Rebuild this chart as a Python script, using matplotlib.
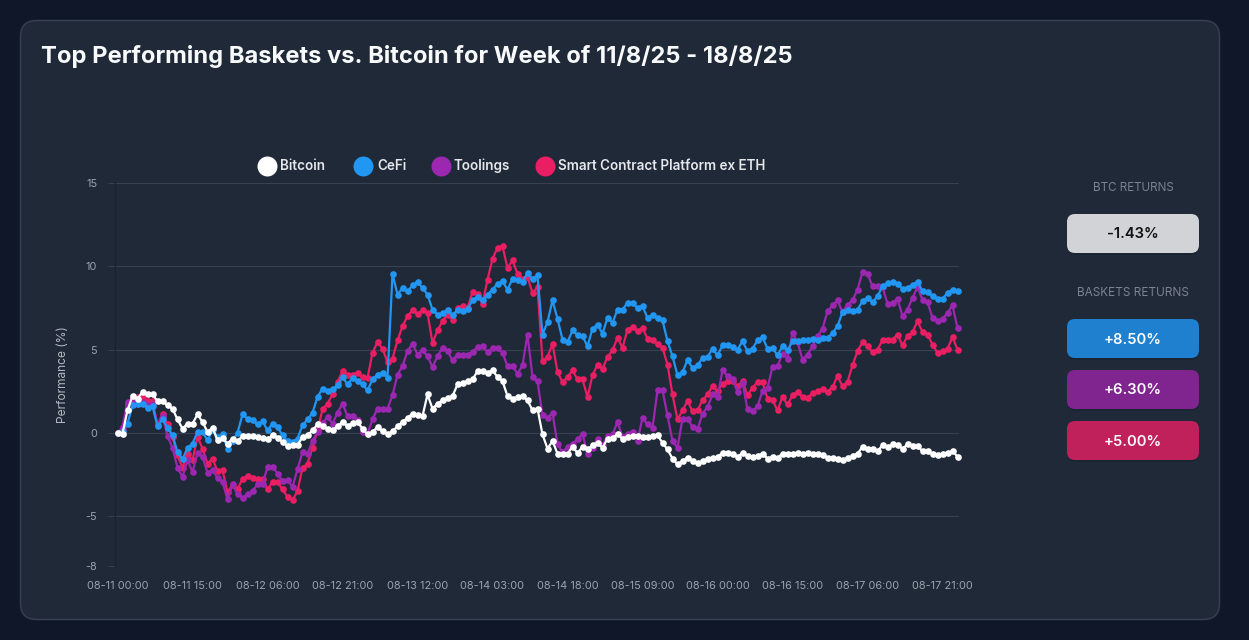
import matplotlib
matplotlib.use("Agg")
import matplotlib.pyplot as plt
from matplotlib.patches import FancyBboxPatch

# ---------------------------------------------------------------------------
# DATA (hourly)
# ---------------------------------------------------------------------------
bitcoin = [0, -0.05, 1.35, 2.2, 2.05, 2.45, 2.3, 2.3, 1.9, 1.9, 1.65, 1.45, 0.8, 0.25, 0.55, 0.55, 1.1, 0.65, 0.05, 0.3,
           -0.45, -0.3, -0.65, -0.35, -0.5, -0.2, -0.2, -0.2, -0.27, -0.3, -0.4, -0.15, -0.3, -0.55, -0.8, -0.75, -0.75, -0.25, -0.15, 0.15,
           0.5, 0.4, 0.25, 0.15, 0.4, 0.65, 0.4, 0.6, 0.65, 0.25, -0.1, 0.05, 0.35, 0.08, -0.08, 0.08, 0.4, 0.65, 0.9, 1.15,
           1.05, 1.0, 2.3, 1.45, 1.75, 1.95, 2.1, 2.2, 2.9, 3.0, 3.1, 3.2, 3.7, 3.7, 3.6, 3.75, 3.35, 3.1, 2.2, 2.05,
           2.15, 2.2, 1.95, 1.35, 1.45, -0.1, -0.95, -0.5, -1.25, -1.3, -1.25, -0.85, -1.2, -0.85, -1.0, -0.75, -0.6, -0.9, -0.35, -0.3,
           -0.1, -0.35, -0.25, -0.2, -0.2, -0.25, -0.25, -0.2, -0.15, -0.6, -1.0, -1.55, -1.9, -1.7, -1.5, -1.7, -1.8, -1.7, -1.55, -1.5,
           -1.45, -1.2, -1.2, -1.3, -1.45, -1.2, -1.4, -1.45, -1.4, -1.25, -1.55, -1.45, -1.5, -1.25, -1.25, -1.25, -1.2, -1.25, -1.2, -1.3,
           -1.3, -1.35, -1.5, -1.5, -1.55, -1.65, -1.5, -1.4, -1.25, -0.85, -0.95, -1.0, -1.1, -0.75, -0.85, -0.7, -0.75, -0.95, -0.7, -0.8,
           -0.8, -1.1, -1.1, -1.25, -1.35, -1.3, -1.2, -1.1, -1.43]
cefi = [0, 0.1, 0.55, 1.65, 1.75, 1.75, 1.5, 1.6, 0.4, 0.8, 0.3, -0.15, -1.15, -1.6, -0.9, -0.65, 0.05, 0.05, -0.45, 0.15,
        -0.25, -0.1, -0.95, -0.5, 0, 1.1, 0.85, 0.75, 0.5, 0.7, 0.15, 0.55, 0.35, -0.15, -0.5, -0.55, -0.35, 0.45, 0.8, 1.2,
        2.15, 2.65, 2.5, 2.6, 2.85, 3.35, 2.9, 3.3, 3.1, 2.9, 2.55, 3.2, 3.5, 3.6, 3.3, 9.55, 8.3, 8.7, 8.5, 8.85,
        9.05, 8.7, 8.3, 7.4, 7.1, 7.2, 7.35, 7.1, 7.35, 7.3, 7.45, 7.95, 8.15, 7.95, 8.3, 8.6, 8.95, 9.1, 8.6, 9.25,
        9.15, 9.05, 9.6, 9.25, 9.45, 5.9, 6.65, 7.95, 6.85, 5.6, 5.45, 6.15, 5.85, 5.8, 5.2, 6.25, 6.5, 5.95, 6.9, 6.6,
        7.4, 7.4, 7.8, 7.8, 7.5, 7.6, 6.9, 7.1, 6.9, 6.75, 5.5, 4.6, 3.45, 3.65, 4.35, 3.9, 4.05, 4.5, 4.55, 5.05,
        4.65, 5.25, 5.3, 5.15, 5.0, 5.5, 4.9, 5.05, 5.55, 5.75, 5.05, 5.1, 4.65, 5.2, 4.95, 5.5, 5.5, 5.55, 5.55, 5.65,
        5.55, 5.7, 5.7, 6.0, 6.4, 7.25, 7.35, 7.3, 7.4, 7.9, 8.1, 7.85, 8.2, 8.8, 9.0, 9.05, 8.95, 8.65, 8.7, 8.9,
        9.05, 8.5, 8.45, 8.2, 8.05, 8.05, 8.4, 8.6, 8.5]
toolings = [0, 0.35, 1.85, 1.95, 1.75, 1.85, 1.65, 1.75, 0.45, 1.0, -0.2, -0.9, -2.1, -2.65, -1.65, -2.35, -1.2, -1.45, -2.4, -2.25,
            -2.7, -2.95, -4.0, -3.1, -3.7, -3.9, -3.7, -3.5, -3.1, -3.1, -2.05, -2.05, -2.45, -2.9, -2.85, -3.25, -2.2, -1.15, -1.25, -0.5,
            0.05, 0.6, 0.95, 0.55, 1.2, 1.75, 1.0, 1.0, 0.75, 0.05, -0.05, 0.8, 1.45, 1.45, 1.45, 2.25, 3.5, 4.0, 4.9, 5.35,
            4.7, 4.95, 4.6, 3.95, 4.6, 5.1, 4.9, 4.35, 4.7, 4.7, 4.7, 4.85, 5.15, 5.2, 4.85, 5.1, 5.1, 4.8, 4.0, 4.0,
            3.55, 4.05, 5.9, 3.35, 3.1, 1.05, 0.9, 1.2, -0.7, -1.15, -0.85, -0.65, -0.4, -0.05, -1.3, -0.9, -0.35, -0.75, -0.2, -0.1,
            0.65, -0.25, -0.1, 0.05, -0.5, 0.9, 0.5, 0.3, 2.55, 2.55, 1.05, -0.5, -0.9, 0.85, 0.85, 0.35, 0.2, 1.15, 1.55, 2.3,
            2.15, 3.75, 3.4, 3.25, 2.45, 3.0, 1.4, 1.3, 1.6, 2.5, 2.7, 3.95, 4.0, 4.75, 4.45, 6.0, 5.45, 4.4, 4.7, 5.2,
            5.8, 6.25, 7.3, 7.65, 7.95, 7.25, 7.7, 7.95, 8.6, 9.65, 9.55, 8.8, 8.8, 8.75, 7.75, 7.8, 8.05, 7.0, 7.4, 8.1,
            8.75, 8.0, 7.85, 6.9, 6.7, 6.85, 7.2, 7.65, 6.3]
scp_ex_eth = [0, 0.15, 1.75, 2.15, 2.15, 2.15, 1.9, 1.9, 0.45, 1.15, 0.5, -0.25, -1.35, -2.1, -1.25, -1.65, -0.25, -0.95, -1.85, -1.55,
              -2.3, -2.25, -3.55, -3.15, -3.4, -2.75, -2.6, -2.7, -2.8, -2.8, -3.4, -2.95, -2.95, -3.4, -3.85, -4.05, -3.5, -2.1, -1.85, -0.9,
              0.15, 1.4, 1.75, 2.3, 3.05, 3.7, 3.5, 3.5, 3.6, 3.35, 3.3, 4.8, 5.45, 5.05, 4.25, 4.45, 5.55, 6.4, 7.0, 7.35,
              7.15, 7.35, 7.2, 5.4, 6.15, 6.7, 7.1, 6.8, 7.5, 7.6, 7.5, 8.45, 8.35, 7.75, 9.2, 10.45, 11.1, 11.2, 9.9, 10.35,
              9.55, 9.25, 9.35, 8.4, 8.75, 4.3, 4.55, 5.35, 3.65, 3.05, 3.35, 3.75, 3.2, 3.2, 2.15, 3.45, 4.1, 3.85, 4.55, 4.95,
              5.7, 5.1, 6.2, 6.35, 6.1, 6.3, 5.65, 5.55, 5.35, 5.1, 4.1, 2.3, 0.8, 1.35, 1.9, 1.3, 1.35, 1.95, 2.3, 2.8,
              2.5, 2.95, 3.1, 3.1, 2.8, 3.1, 2.25, 2.7, 3.05, 3.05, 2.05, 1.95, 1.35, 2.15, 1.7, 2.25, 2.45, 2.15, 2.1, 2.4,
              2.5, 2.6, 2.45, 2.75, 3.4, 2.8, 3.05, 4.05, 4.9, 5.45, 5.2, 4.85, 5.0, 5.55, 5.55, 5.6, 5.9, 5.25, 5.8, 6.05,
              6.7, 6.05, 5.9, 5.3, 4.8, 4.9, 5.05, 5.75, 5.0]

y_ticks = [15, 10, 5, 0, -5, -8]
x_tick_pos = [0, 15, 30, 45, 60, 75, 90, 105, 120, 135, 150, 165]
x_tick_labels = ["08-11 00:00", "08-11 15:00", "08-12 06:00", "08-12 21:00", "08-13 12:00", "08-14 03:00",
                 "08-14 18:00", "08-15 09:00", "08-16 00:00", "08-16 15:00", "08-17 06:00", "08-17 21:00"]

series_names = ["Bitcoin", "CeFi", "Toolings", "Smart Contract Platform ex ETH"]
series_colors = ["#ffffff", "#2196f3", "#9c27b0", "#e91e63"]

btc_return = "-1.43%"
basket_returns = ["+8.50%", "+6.30%", "+5.00%"]
basket_colors = ["#2080d0", "#80248f", "#c0215a"]

TITLE = "Top Performing Baskets vs. Bitcoin for Week of 11/8/25 - 18/8/25"
W, H = 1249, 640
FONT = "Inter"

plt.rcParams["font.family"] = [FONT, "DejaVu Sans"]
plt.rcParams["axes.unicode_minus"] = False

fig = plt.figure(figsize=(W / 100, H / 100), dpi=100, facecolor="#0f1729")

# ---------------------------------------------------------------------------
# CARD + SIDE PANEL (overlay in pixel coordinates)
# ---------------------------------------------------------------------------
bg = fig.add_axes([0, 0, 1, 1])
bg.set_xlim(0, W)
bg.set_ylim(H, 0)
bg.axis("off")

bg.add_patch(FancyBboxPatch((20.5, 20.5), 1199, 599, boxstyle="round,pad=0,rounding_size=16",
                            fc="#1f2937", ec="#374151", lw=1))
bg.text(41, 57, TITLE, color="#f9fafb", fontsize=17.1, fontweight="bold", va="center", ha="left")


def badge(y, text, face, text_color):
    # soft shadow first, then the button itself
    bg.add_patch(FancyBboxPatch((1067, y + 2), 132, 39, boxstyle="round,pad=0,rounding_size=8",
                                fc="#111827", ec="none", alpha=0.25))
    bg.add_patch(FancyBboxPatch((1067, y), 132, 39, boxstyle="round,pad=0,rounding_size=8",
                                fc=face, ec="none"))
    bg.text(1133, y + 20.5, text, color=text_color, fontsize=10.6, fontweight="semibold",
            ha="center", va="center")


bg.text(1133, 188, "BTC RETURNS", color="#7b8290", fontsize=8.4, ha="center", va="center")
badge(214, btc_return, "#d1d3d6", "#111111")
bg.text(1133, 293, "BASKETS RETURNS", color="#7b8290", fontsize=8.5, ha="center", va="center")
for top, txt, col in zip([319, 370, 421], basket_returns, basket_colors):
    badge(top, txt, col, "#ffffff")

# legend
legend_dots = [267, 363.5, 441, 545]
legend_text = [280, 377, 454, 558]
for dx, tx, name, col in zip(legend_dots, legend_text, series_names, series_colors):
    bg.plot([dx], [166], "o", ms=14.4, color=col, mew=0)
    bg.text(tx, 166, name, color="#e5e7eb", fontsize=9.7, fontweight="semibold", va="center", ha="left")

# ---------------------------------------------------------------------------
# CHART
# ---------------------------------------------------------------------------
ax = fig.add_axes([114.5 / W, 1 - 566 / H, 844 / W, 383 / H])
ax.patch.set_alpha(0)
ax.set_xlim(-0.6, 168.2)
ax.set_ylim(-8, 15)

for s in ax.spines.values():
    s.set_visible(False)
ax.spines["left"].set_visible(True)
ax.spines["left"].set_color("#1a2230")
ax.spines["left"].set_linewidth(1)

ax.set_yticks(y_ticks)
ax.set_xticks(x_tick_pos)
ax.set_xticklabels(x_tick_labels)
ax.tick_params(axis="y", length=5, width=0.7, color="#374151", labelcolor="#9ca3af", labelsize=7.9, pad=7.5)
ax.tick_params(axis="x", length=0, labelcolor="#9ca3af", labelsize=7.9, pad=11)
ax.grid(axis="y", color="#374151", lw=0.8)
ax.set_axisbelow(True)
ax.set_ylabel("Performance (%)", color="#b4b9c1", fontsize=8.6, labelpad=11.5)

# drawn back to front: white stays on top
hours = list(range(len(bitcoin)))
all_series = [bitcoin, cefi, toolings, scp_ex_eth]
for i in [3, 2, 1, 0]:
    ax.plot(hours, all_series[i], color=series_colors[i], lw=1.6, marker="o", ms=4.8, mew=0,
            clip_on=False, zorder=3 + (3 - i))

fig.savefig("out.png", dpi=100, facecolor=fig.get_facecolor())
